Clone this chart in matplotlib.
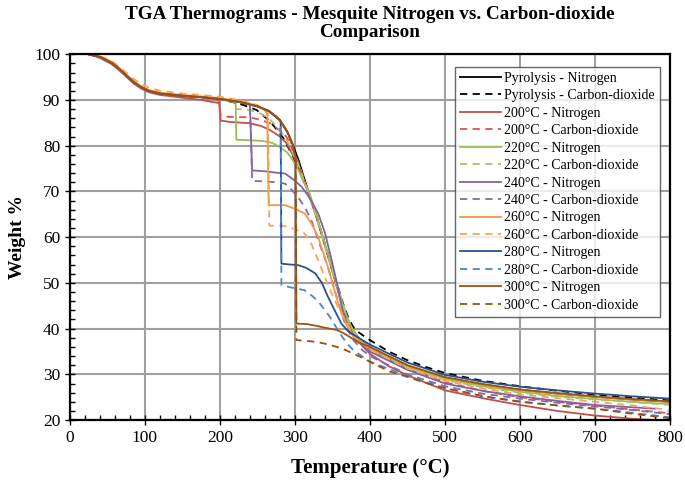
#!/usr/bin/env python3
"""TGA thermograms: mesquite, nitrogen vs carbon-dioxide."""
import matplotlib
matplotlib.use("Agg")
import matplotlib.pyplot as plt
from matplotlib.ticker import MultipleLocator

# ---- data ----
t_pyro_n = [25, 40, 55, 65, 75, 85, 95, 105, 120, 150, 175, 200, 225, 250, 265, 280, 290, 297, 305, 311,
            318, 328, 337, 346, 355, 364, 370, 375, 381, 387, 400, 425, 450, 500, 550, 600, 650, 700, 750, 800]
w_pyro_n = [100, 99.4, 98.2, 96.9, 95.4, 93.9, 92.8, 92.0, 91.4, 90.9, 90.6, 90.2, 89.6, 88.6, 87.6, 85.6, 83.0, 80.3, 76.8, 73.6,
            70.0, 65.0, 60.0, 55.0, 50.0, 45.0, 42.2, 40.3, 38.8, 37.6, 35.8, 33.5, 31.8, 29.3, 27.8, 26.6, 25.8, 25.1, 24.5, 24.0]

t_pyro_c = [25, 40, 55, 65, 75, 85, 95, 105, 120, 150, 175, 200, 215, 231, 249, 267, 284, 297, 307, 318,
            328, 337, 346, 355, 364, 372, 380, 390, 400, 425, 450, 475, 500, 550, 600, 650, 700, 750, 800]
w_pyro_c = [100, 99.4, 98.2, 96.9, 95.4, 93.9, 92.8, 92.0, 91.4, 90.9, 90.6, 90.2, 89.6, 88.9, 87.8, 85.3, 81.8, 77.8, 74.3, 69.8,
            65.0, 60.2, 55.3, 50.4, 45.6, 42.0, 39.8, 38.6, 37.5, 35.0, 33.1, 31.6, 30.3, 28.6, 27.4, 26.4, 25.6, 24.9, 24.3]

t_200_n = [25, 40, 55, 65, 75, 85, 95, 105, 120, 150, 175, 199, 201, 213, 240, 255, 267, 280, 289, 297, 305,
           318, 328, 337, 346, 355, 364, 372, 380, 390, 400, 425, 450, 500, 550, 600, 650, 700, 750, 800]
w_200_n = [100, 99.2, 97.9, 96.6, 95.1, 93.6, 92.5, 91.7, 91.1, 90.5, 90.0, 89.3, 85.5, 85.2, 84.9, 84.3, 83.4, 82.0, 80.5, 78.0, 75.6,
           69.6, 64.7, 59.8, 54.8, 49.6, 44.5, 40.6, 38.3, 36.2, 34.5, 31.8, 29.8, 26.5, 24.8, 23.3, 22.0, 21.0, 20.3, 19.8]

t_200_c = [25, 40, 55, 65, 75, 85, 95, 105, 120, 150, 175, 199, 201, 213, 240, 255, 267, 280, 289, 297, 305,
           318, 328, 337, 346, 355, 364, 372, 380, 390, 400, 450, 500, 550, 600, 650, 700, 750, 800]
w_200_c = [100, 99.4, 98.2, 96.9, 95.4, 93.9, 92.8, 92.0, 91.4, 90.9, 90.6, 89.8, 86.4, 86.3, 86.2, 85.6, 84.9, 83.3, 81.9, 79.0, 76.2,
           70.0, 65.0, 60.0, 55.0, 50.0, 45.0, 41.0, 38.8, 37.0, 35.5, 31.2, 28.3, 26.4, 25.0, 24.0, 23.2, 22.3, 21.5]

t_220_n = [25, 40, 55, 65, 75, 85, 95, 105, 120, 150, 175, 200, 215, 221, 222, 240, 258, 270, 280, 290, 298, 305, 311,
           318, 328, 337, 346, 355, 364, 370, 375, 381, 387, 400, 450, 500, 550, 600, 650, 700, 750, 800]
w_220_n = [100, 99.4, 98.2, 96.9, 95.4, 93.9, 92.8, 92.0, 91.4, 90.9, 90.6, 90.1, 89.7, 89.4, 81.3, 81.2, 81.0, 80.6, 79.7, 78.5, 76.6, 74.6, 72.2,
           70.3, 65.3, 60.3, 55.3, 50.3, 45.3, 42.4, 40.5, 38.8, 37.5, 35.8, 31.7, 29.0, 27.4, 26.2, 25.3, 24.6, 24.0, 23.5]

t_220_c = [25, 40, 55, 65, 75, 85, 95, 105, 120, 150, 175, 200, 215, 221, 222, 235, 250, 265, 280, 290, 297, 305, 311,
           318, 328, 337, 346, 355, 364, 372, 380, 390, 400, 450, 500, 550, 600, 650, 700, 750, 800]
w_220_c = [100, 99.4, 98.2, 96.9, 95.4, 93.9, 92.8, 92.0, 91.4, 90.9, 90.6, 90.2, 89.7, 89.5, 88.0, 87.9, 87.4, 86.0, 83.5, 81.0, 78.5, 75.8, 72.9,
           69.5, 64.6, 59.7, 54.7, 49.7, 44.8, 41.2, 38.9, 37.0, 35.6, 31.5, 28.8, 27.2, 26.0, 25.1, 24.5, 23.9, 23.3]

t_240_n = [25, 40, 55, 65, 75, 85, 95, 105, 120, 150, 175, 200, 225, 240, 243, 260, 275, 287, 298, 309,
           320, 331, 340, 349, 356, 362, 368, 375, 385, 400, 450, 500, 550, 600, 650, 700, 750, 780]
w_240_n = [100, 99.4, 98.2, 96.9, 95.4, 93.9, 92.8, 92.0, 91.4, 90.9, 90.6, 90.2, 89.6, 89.0, 74.6, 74.4, 74.1, 73.9, 72.6, 71.0,
           68.5, 65.2, 61.0, 55.0, 50.0, 45.0, 41.5, 39.0, 37.0, 35.0, 31.0, 28.0, 26.4, 25.2, 24.2, 23.3, 22.8, 22.5]

t_240_c = [25, 40, 55, 65, 75, 85, 95, 105, 120, 150, 175, 200, 225, 240, 243, 260, 275, 287, 296, 304,
           313, 322, 333, 344, 352, 360, 368, 378, 390, 400, 450, 500, 550, 600, 650, 700, 750, 800]
w_240_c = [100, 99.4, 98.2, 96.9, 95.4, 93.9, 92.8, 92.0, 91.4, 90.9, 90.6, 90.2, 89.6, 89.0, 72.3, 72.2, 72.0, 71.7, 70.3, 68.8,
           66.6, 63.7, 58.5, 53.5, 49.0, 44.5, 40.5, 37.5, 35.3, 34.0, 30.0, 27.4, 25.8, 24.7, 23.8, 23.0, 22.2, 21.3]

t_260_n = [25, 40, 55, 65, 75, 85, 95, 105, 120, 150, 175, 200, 225, 250, 258, 263, 265, 280, 287, 300, 313,
           322, 331, 338, 344, 350, 357, 363, 370, 380, 390, 400, 450, 500, 550, 600, 650, 700, 750, 800]
w_260_n = [100, 99.5, 98.4, 97.1, 95.6, 94.1, 93.0, 92.2, 91.6, 91.1, 90.8, 90.4, 89.8, 88.8, 88.0, 87.3, 67.0, 67.0, 67.0, 66.2, 65.2,
           63.0, 60.0, 56.5, 53.5, 50.0, 46.0, 43.0, 40.5, 38.0, 36.8, 35.9, 32.0, 29.3, 27.8, 26.6, 25.8, 25.1, 24.5, 24.0]

t_260_c = [25, 40, 55, 65, 75, 85, 95, 105, 120, 150, 175, 200, 225, 250, 258, 264, 266, 280, 287, 300, 313,
           322, 331, 340, 349, 358, 367, 375, 385, 400, 450, 500, 550, 600, 650, 700, 750, 790, 800]
w_260_c = [100, 99.6, 98.6, 97.4, 96.0, 94.6, 93.5, 92.7, 92.0, 91.4, 91.1, 90.7, 90.0, 88.9, 88.0, 87.0, 62.5, 62.5, 62.4, 61.8, 60.8,
           58.5, 55.0, 51.2, 47.7, 44.5, 41.9, 39.5, 37.4, 35.5, 31.3, 28.6, 26.9, 25.6, 24.8, 24.0, 23.2, 22.4, 21.8]

t_280_n = [25, 40, 55, 65, 75, 85, 95, 105, 120, 150, 175, 200, 225, 250, 265, 275, 281, 282, 295, 304, 315,
           327, 336, 344, 353, 362, 370, 376, 385, 400, 450, 500, 550, 600, 650, 700, 750, 800]
w_280_n = [100, 99.4, 98.2, 96.9, 95.4, 93.9, 92.8, 92.0, 91.4, 90.9, 90.6, 90.2, 89.6, 88.6, 87.6, 86.4, 85.4, 54.2, 54.0, 53.9, 53.3,
           52.1, 50.0, 47.0, 44.0, 41.1, 39.6, 38.9, 38.0, 36.5, 32.6, 29.9, 28.4, 27.3, 26.5, 25.8, 25.2, 24.7]

t_280_c = [25, 40, 55, 65, 75, 85, 95, 105, 120, 150, 175, 200, 225, 250, 265, 275, 281, 282, 295, 313, 322,
           331, 340, 347, 358, 369, 378, 390, 400, 450, 500, 550, 600, 650, 700, 750, 800]
w_280_c = [100, 99.4, 98.2, 96.9, 95.4, 93.9, 92.8, 92.0, 91.4, 90.9, 90.6, 90.2, 89.6, 88.6, 87.6, 86.4, 85.4, 49.5, 49.0, 48.4, 47.3,
           46.0, 44.0, 42.5, 39.5, 36.8, 35.3, 33.9, 32.8, 29.6, 27.0, 25.2, 24.1, 23.2, 22.5, 21.6, 20.6]

t_300_n = [25, 40, 55, 65, 75, 85, 95, 105, 120, 150, 175, 200, 225, 250, 265, 280, 290, 297, 301, 302, 316,
           329, 340, 356, 365, 373, 385, 400, 450, 500, 550, 600, 650, 700, 750, 800]
w_300_n = [100, 99.4, 98.2, 96.9, 95.4, 93.9, 92.8, 92.0, 91.4, 90.9, 90.6, 90.2, 89.6, 88.6, 87.6, 85.6, 83.0, 80.3, 77.5, 41.1, 41.0,
           40.6, 40.2, 39.7, 39.0, 38.2, 37.0, 36.0, 32.0, 29.4, 27.9, 26.7, 25.9, 25.2, 24.6, 24.1]

t_300_c = [25, 40, 55, 65, 75, 85, 95, 105, 120, 150, 175, 200, 225, 250, 265, 280, 290, 297, 301, 302, 316,
           329, 343, 356, 365, 373, 385, 396, 404, 427, 449, 475, 502, 556, 600, 650, 700, 750, 800]
w_300_c = [100, 99.4, 98.2, 96.9, 95.4, 93.9, 92.8, 92.0, 91.4, 90.9, 90.6, 90.2, 89.6, 88.6, 87.6, 85.6, 83.0, 79.8, 77.5, 37.5, 37.3,
           37.1, 36.6, 36.0, 35.5, 34.9, 34.0, 33.1, 32.4, 30.6, 29.5, 28.1, 26.9, 25.1, 24.0, 23.2, 22.5, 21.4, 20.4]

SOLID = "-"
DASH = (0, (4, 3))

curves = [
    (t_pyro_n, w_pyro_n, "Pyrolysis - Nitrogen", "#000000", SOLID),
    (t_pyro_c, w_pyro_c, "Pyrolysis - Carbon-dioxide", "#000000", DASH),
    (t_200_n, w_200_n, "200°C - Nitrogen", "#C0504D", SOLID),
    (t_200_c, w_200_c, "200°C - Carbon-dioxide", "#E0504F", DASH),
    (t_220_n, w_220_n, "220°C - Nitrogen", "#9BBB59", SOLID),
    (t_220_c, w_220_c, "220°C - Carbon-dioxide", "#A6C46E", DASH),
    (t_240_n, w_240_n, "240°C - Nitrogen", "#8064A2", SOLID),
    (t_240_c, w_240_c, "240°C - Carbon-dioxide", "#8467B0", DASH),
    (t_260_n, w_260_n, "260°C - Nitrogen", "#F79646", SOLID),
    (t_260_c, w_260_c, "260°C - Carbon-dioxide", "#F9A25C", DASH),
    (t_280_n, w_280_n, "280°C - Nitrogen", "#27528F", SOLID),
    (t_280_c, w_280_c, "280°C - Carbon-dioxide", "#4A86C8", DASH),
    (t_300_n, w_300_n, "300°C - Nitrogen", "#A0520F", SOLID),
    (t_300_c, w_300_c, "300°C - Carbon-dioxide", "#98500F", DASH),
]

plt.rcParams["font.family"] = ["Liberation Serif", "DejaVu Serif"]

fig = plt.figure(figsize=(6.85, 4.84), dpi=100)
ax = fig.add_axes([0.102, 0.132, 0.876, 0.756])

for t, w, label, color, ls in curves:
    ax.plot(t, w, color=color, linestyle=ls, linewidth=1.3, label=label)

ax.set_xlim(0, 800)
ax.set_ylim(20, 100)
ax.xaxis.set_major_locator(MultipleLocator(100))
ax.xaxis.set_minor_locator(MultipleLocator(20))
ax.yaxis.set_major_locator(MultipleLocator(10))
ax.yaxis.set_minor_locator(MultipleLocator(2))
ax.grid(True, which="major", color="#A0A0A0", linewidth=1.5)
ax.set_axisbelow(True)
ax.tick_params(which="major", direction="inout", length=7, width=1, labelsize=12.5, top=False, right=False)
ax.tick_params(which="minor", direction="in", length=3.5, width=1, top=False, right=False)
for sp in ax.spines.values():
    sp.set_linewidth(1.6)

ax.set_xlabel("Temperature (°C)", fontsize=15, fontweight="bold", labelpad=9)
ax.set_ylabel("Weight %", fontsize=14, fontweight="bold", labelpad=6)

fig.text(0.54, 0.988, "TGA Thermograms - Mesquite Nitrogen vs. Carbon-dioxide\nComparison",
         ha="center", va="top", fontsize=13.8, fontweight="bold", linespacing=1.08)

leg = ax.legend(loc="upper right", bbox_to_anchor=(0.983, 0.965), fontsize=10, frameon=True,
                fancybox=False, edgecolor="#404040", handlelength=3.0, handletextpad=0.2,
                labelspacing=0.32, borderpad=0.35, borderaxespad=0)
leg.get_frame().set_linewidth(1.0)

fig.savefig("out.png", dpi=100)
